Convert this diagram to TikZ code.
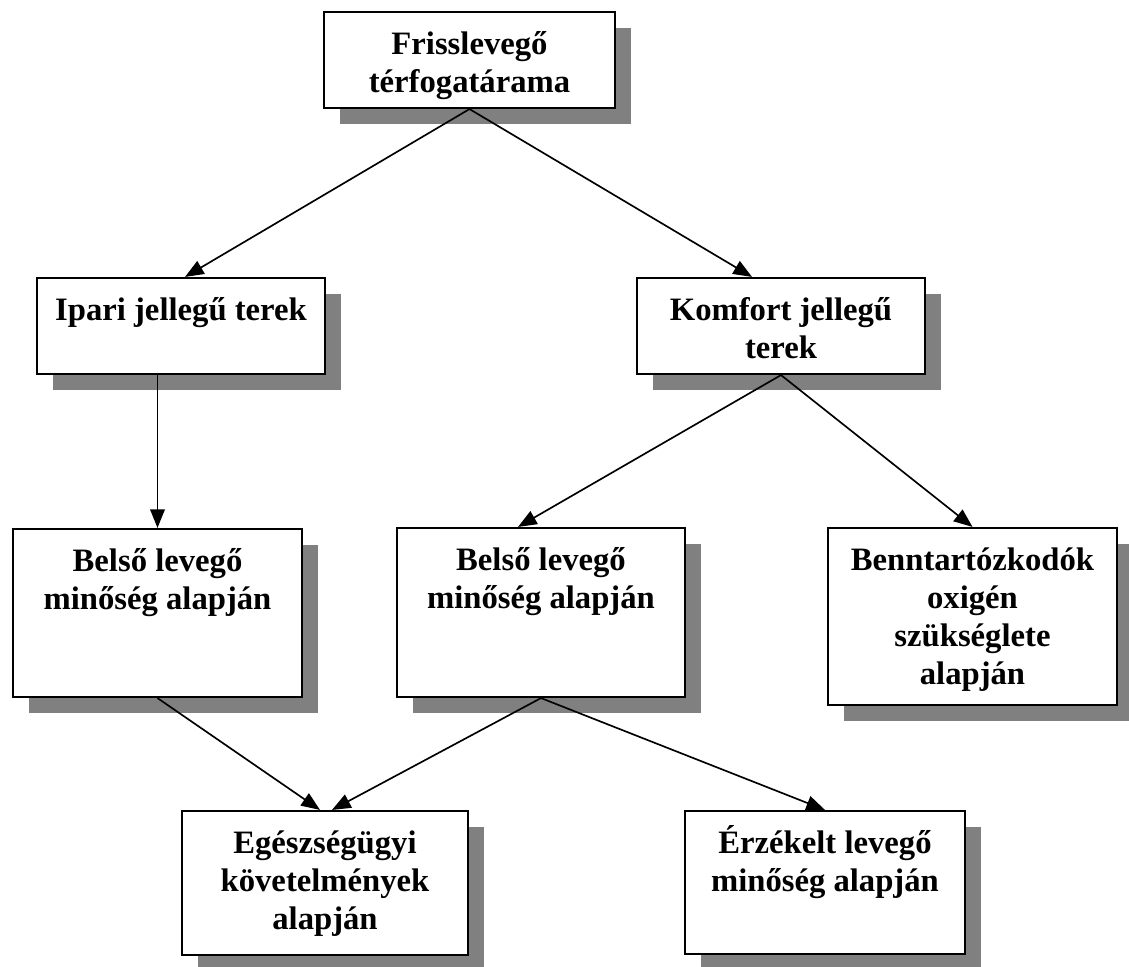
\documentclass[tikz,border=0pt]{standalone}
\usepackage{fontspec}
\setmainfont{Liberation Serif}
\usetikzlibrary{arrows.meta,shadows}
\definecolor{shadowgray}{RGB}{128,128,128}
\newcommand{\bxt}[3]{\parbox[t][#2][t]{#1}{\centering\fontsize{24.5}{28.5}\selectfont\bfseries\rule{0pt}{31.5pt}#3}}
\begin{document}
\begin{tikzpicture}[x=0.75pt,y=-0.75pt,
  box/.style={draw, line width=1.6pt, fill=white, inner sep=0pt, rectangle,
    drop shadow={shadow xshift=12pt, shadow yshift=-12pt, fill=shadowgray, opacity=1}},
  conn/.style={line width=1.25pt, -{Triangle[length=14pt,width=11pt]}}]
\useasboundingbox (0,0) rectangle (1129,967);
\node[box] (top) at (469.5,60) {\bxt{218.25pt}{72pt}{Frisslevegő\\térfogatárama}};
\node[box] (ipari) at (181,326) {\bxt{216pt}{72pt}{Ipari jellegű terek}};
\node[box] (komfort) at (781,326) {\bxt{216pt}{72pt}{Komfort jellegű\\terek}};
\node[box] (belso1) at (157.5,613) {\bxt{216.75pt}{126pt}{Belső levegő\\minőség alapján}};
\node[box] (belso2) at (541,612.5) {\bxt{216pt}{126.75pt}{Belső levegő\\minőség alapján}};
\node[box] (benn) at (972.5,616.5) {\bxt{216.75pt}{132.75pt}{Benntartózkodók\\oxigén\\szükséglete\\alapján}};
\node[box] (egesz) at (325,883) {\bxt{214.5pt}{108pt}{Egészségügyi\\követelmények\\alapján}};
\node[box] (erzekelt) at (825,882.5) {\bxt{210pt}{107.25pt}{Érzékelt levegő\\minőség alapján}};
\draw[conn] (top.south) -- ([xshift=3pt]ipari.north);
\draw[conn] (top.south) -- ([xshift=-21.75pt]komfort.north);
\draw[conn] (ipari.south -| belso1.north) -- (belso1.north);
\draw[conn] (komfort.south) -- ([xshift=-17.25pt]belso2.north);
\draw[conn] (komfort.south) -- (benn.north);
\draw[conn] (belso1.south) -- ([xshift=-3.75pt]egesz.north);
\draw[conn] (belso2.south) -- ([xshift=5.25pt]egesz.north);
\draw[conn] (belso2.south) -- (erzekelt.north);
\end{tikzpicture}
\end{document}
